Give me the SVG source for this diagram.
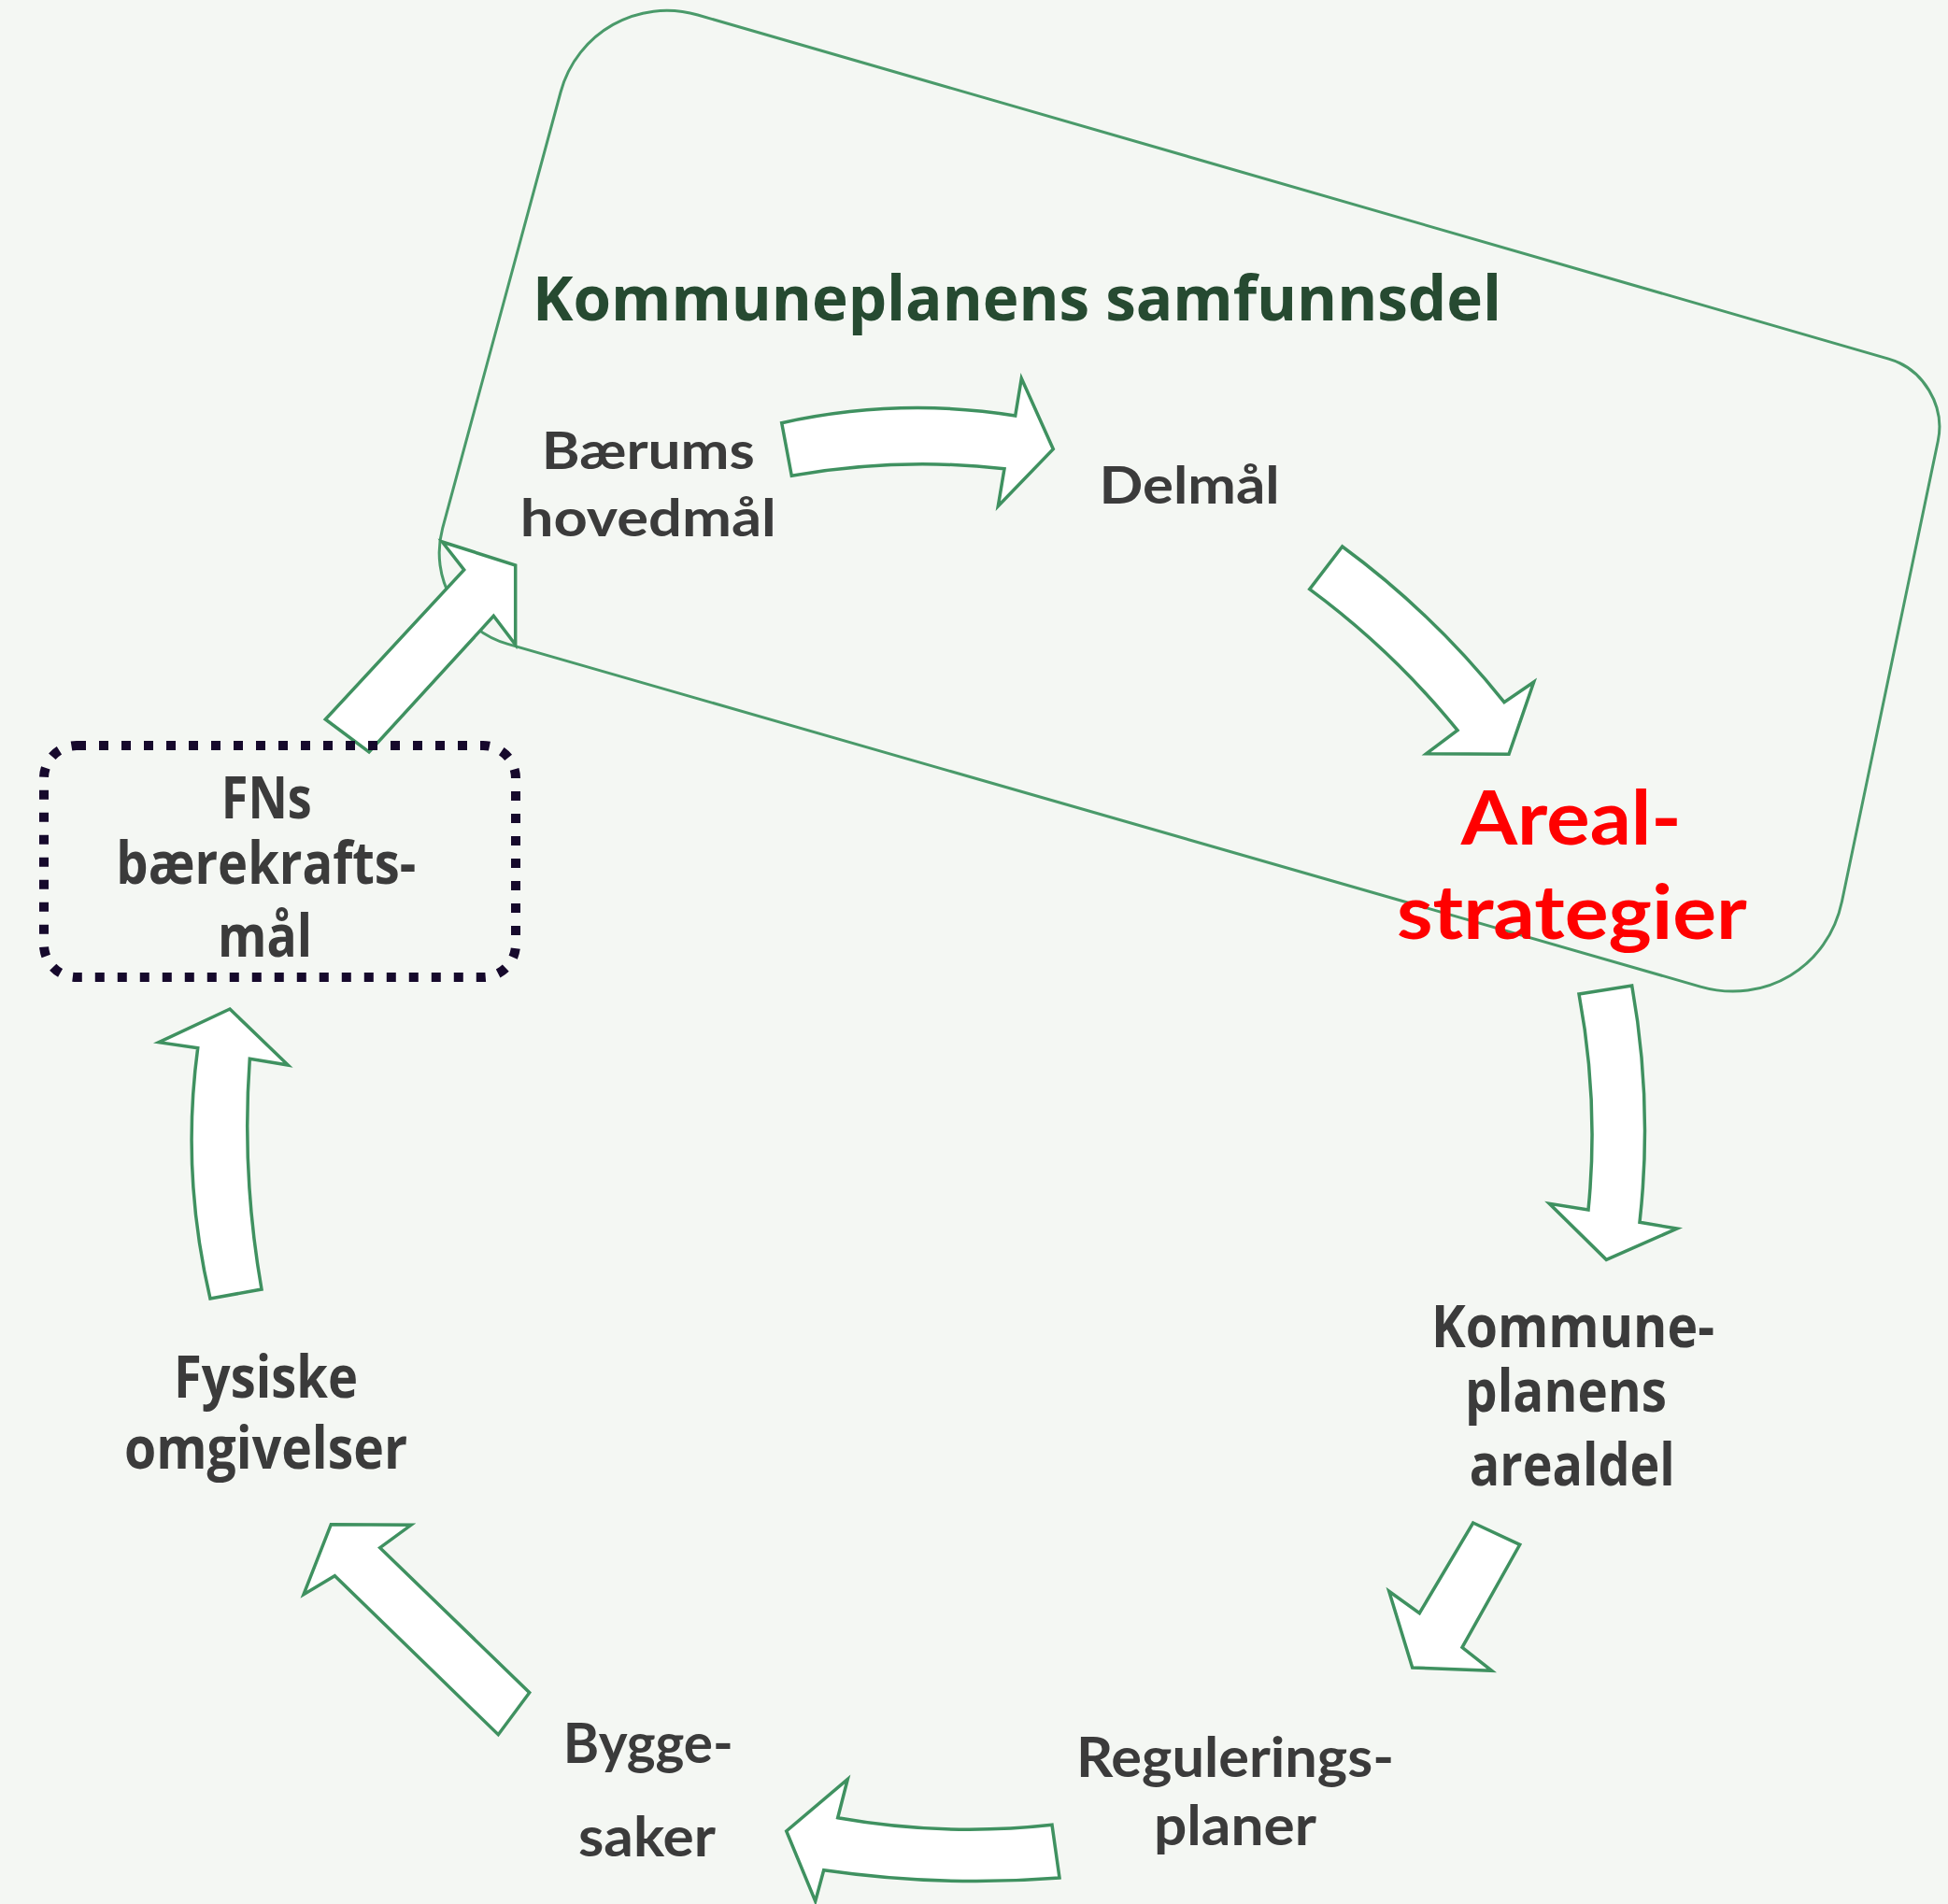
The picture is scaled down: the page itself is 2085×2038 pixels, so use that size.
<svg xmlns="http://www.w3.org/2000/svg" width="2085" height="2038" viewBox="0 0 2085 2038">
<style>
.bg{fill:#f4f7f3}
.frame{fill:none;stroke:#4a9a6a;stroke-width:3}
.arr{fill:#ffffff;stroke:#3f9160;stroke-width:3.5;stroke-linejoin:miter}
.dots{fill:none;stroke:#16092c;stroke-width:10;stroke-dasharray:10 14}
.c{font-family:Lato,"Open Sans",sans-serif;font-weight:700;fill:#3b3b3b;text-anchor:middle}
.g{font-family:"Open Sans",Lato,sans-serif;font-weight:700;fill:#3b3b3b;text-anchor:middle}
.title{font-family:"Open Sans",Lato,sans-serif;font-weight:700;fill:#264a31;text-anchor:middle}
.red{font-family:Lato,"Open Sans",sans-serif;font-weight:700;fill:#ff0000;text-anchor:middle}
</style>
<rect class="bg" x="0" y="0" width="2085" height="2038"/>

<g id="samfunnsdel-frame">
<path class="frame" d="M746.8,16 L2021.4,384.1 C2058.5,394.8 2082.2,434.2 2074.3,472 L1971.5,964.7 C1956.8,1035 1889,1075.9 1820,1056.1 L543.6,689.4 C490.6,674.2 459.2,618.6 473.7,565.3 L600.1,98.5 C617.4,34.6 683.2,-2.4 746.8,16 Z"/>
</g>

<g id="connectors">
<path id="a1" class="arr" d="M836.7,452.7 Q962.3,425 1086.7,445 L1093.3,405 L1127.3,480.7 L1068.3,541.7 L1075,501.7 Q961,489 847.3,509.3 Z"/>
<path id="a2" class="arr" d="M1436.7,585 Q1534.3,656.7 1610,751.7 L1641.7,730 L1615,807.3 L1526.7,806.7 L1560,781.7 Q1490.5,696.2 1401.7,630.7 Z"/>
<path id="a3" class="arr" d="M1690,1064 L1746.7,1055 Q1769.2,1181 1755,1308.3 L1795,1315 L1719.3,1348.3 L1658.3,1288.3 L1700,1295 Q1711.6,1180 1690,1064 Z"/>
<path id="a4" class="arr" d="M1576.7,1630 L1626.7,1653.3 L1565,1763.3 L1596.7,1788.3 L1511.7,1785 L1486.7,1703.3 L1519.3,1726.7 Z"/>
<path id="a5" class="arr" d="M1126,1953.3 L1134,2010 Q1008,2020 881.7,2001.7 L872.7,2035 L841.7,1960 L907.3,1904.3 L896.7,1945.7 Q1011,1966 1126,1953.3 Z"/>
<path id="a6" class="arr" d="M354.3,1631.7 L440,1632.3 L406.7,1656.7 L566.7,1811.7 L533.3,1856.7 L358.3,1686.7 L325,1706.7 Z"/>
<path id="a7" class="arr" d="M246,1080 L308.3,1140 L267.3,1133.3 Q258.4,1256.7 280,1380 L225,1390 Q193.6,1256 211.7,1121.7 L170,1115.7 Z"/>
<path id="a8" class="arr" d="M348.3,770 L496.7,610 L473.3,580 L551.7,605 L551.7,690 L528.3,659.3 L395,805 Z"/>
</g>

<g id="node-fn">
<rect class="dots" x="47" y="798" width="505" height="248" rx="35" ry="35"/>
<text class="g" x="285.3" y="876" font-size="62" textLength="97" lengthAdjust="spacingAndGlyphs">FNs</text>
<text class="g" x="284.8" y="946" font-size="62" textLength="321" lengthAdjust="spacingAndGlyphs">bærekrafts-</text>
<text class="g" x="283.5" y="1023.6" font-size="62" textLength="101" lengthAdjust="spacingAndGlyphs">mål</text>
</g>

<g id="node-title">
<text class="title" x="1088.5" y="342.5" font-size="67" textLength="1037" lengthAdjust="spacingAndGlyphs">Kommuneplanens samfunnsdel</text>
</g>

<g id="node-hovedmal">
<text class="c" x="693.8" y="502" font-size="56" textLength="228" lengthAdjust="spacingAndGlyphs">Bærums</text>
<text class="c" x="693.8" y="574" font-size="56" textLength="274" lengthAdjust="spacingAndGlyphs">hovedmål</text>
</g>

<g id="node-delmal">
<text class="c" x="1273" y="539" font-size="56" textLength="193" lengthAdjust="spacingAndGlyphs">Delmål</text>
</g>

<g id="node-arealstrategier">
<text class="red" x="1681.8" y="903.5" font-size="81" textLength="236" lengthAdjust="spacingAndGlyphs">Areal-</text>
<text class="red" x="1682.4" y="1004.5" font-size="81" textLength="375" lengthAdjust="spacingAndGlyphs">strategier</text>
</g>

<g id="node-arealdel">
<text class="g" x="1683.5" y="1442" font-size="62" textLength="303" lengthAdjust="spacingAndGlyphs">Kommune-</text>
<text class="g" x="1676" y="1511" font-size="62" textLength="216" lengthAdjust="spacingAndGlyphs">planens</text>
<text class="g" x="1682.8" y="1590" font-size="62" textLength="220" lengthAdjust="spacingAndGlyphs">arealdel</text>
</g>

<g id="node-reguleringsplaner">
<text class="c" x="1322" y="1901.6" font-size="60" textLength="340" lengthAdjust="spacingAndGlyphs">Regulerings-</text>
<text class="c" x="1322" y="1975" font-size="60" textLength="174" lengthAdjust="spacingAndGlyphs">planer</text>
</g>

<g id="node-byggesaker">
<text class="c" x="693.8" y="1887" font-size="60" textLength="182" lengthAdjust="spacingAndGlyphs">Bygge-</text>
<text class="c" x="692.5" y="1986.7" font-size="60" textLength="147" lengthAdjust="spacingAndGlyphs">saker</text>
</g>

<g id="node-fysiske">
<text class="g" x="284.5" y="1496" font-size="62" textLength="197" lengthAdjust="spacingAndGlyphs">Fysiske</text>
<text class="g" x="284.5" y="1572" font-size="62" textLength="303" lengthAdjust="spacingAndGlyphs">omgivelser</text>
</g>
</svg>
